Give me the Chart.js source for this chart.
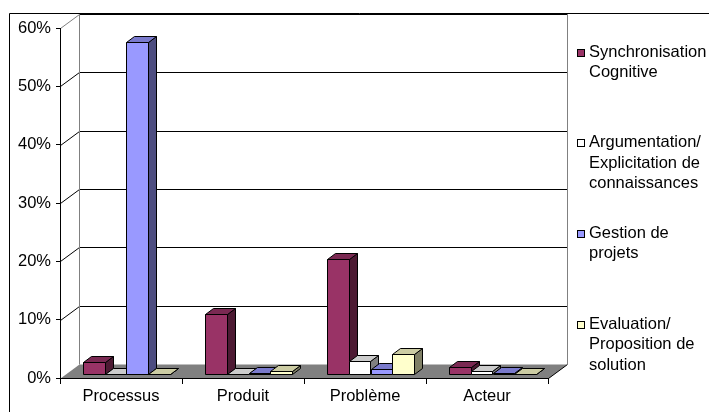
<!DOCTYPE html>
<html>
<head>
<meta charset="utf-8">
<script src="https://cdn.jsdelivr.net/npm/chart.js@4/dist/chart.umd.min.js"></script>
<style>
  html, body { margin: 0; padding: 0; background: #fff; }
  #wrap { width: 709px; height: 412px; }
</style>
</head>
<body>
<div id="wrap"><canvas id="c" width="709" height="412"></canvas></div>
<script>
// ---- data ----
const categories = ['Processus', 'Produit', 'Problème', 'Acteur'];
const seriesNames = [
  ['Synchronisation', 'Cognitive'],
  ['Argumentation/', 'Explicitation de', 'connaissances'],
  ['Gestion de', 'projets'],
  ['Evaluation/', 'Proposition de', 'solution']
];
const synchronisation = [2.0, 10.3, 19.8, 1.2];
const argumentation = [0, 0, 2.2, 0.5];
const gestion = [57.0, 0.2, 0.8, 0.2];
const evaluation = [0, 0.5, 3.5, 0];
const yTickValues = [0, 10, 20, 30, 40, 50, 60];

// ---- style ----
const seriesColors = ['#993366', '#FFFFFF', '#9999FF', '#FFFFCC'];
const FONT = '"Liberation Sans", Arial, sans-serif';
const FSIZE = 16.5;
const WALL_DX = 19, WALL_DY = 14;      // depth of the 3D box
const BAR_OX = 5.5, BAR_OY = 4;        // bar offset into depth
const BAR_DX = 8, BAR_DY = 6;          // bar depth

function shade(hex, f) {
  const n = parseInt(hex.slice(1), 16);
  const r = Math.round(((n >> 16) & 255) * f);
  const g = Math.round(((n >> 8) & 255) * f);
  const b = Math.round((n & 255) * f);
  return `rgb(${r},${g},${b})`;
}

function poly(ctx, pts, fill, stroke) {
  ctx.beginPath();
  ctx.moveTo(pts[0][0], pts[0][1]);
  for (let i = 1; i < pts.length; i++) ctx.lineTo(pts[i][0], pts[i][1]);
  ctx.closePath();
  if (fill) { ctx.fillStyle = fill; ctx.fill(); }
  if (stroke) { ctx.strokeStyle = stroke; ctx.lineWidth = 1; ctx.stroke(); }
}
function line(ctx, x1, y1, x2, y2, color) {
  ctx.beginPath();
  ctx.moveTo(x1, y1); ctx.lineTo(x2, y2);
  ctx.strokeStyle = color; ctx.lineWidth = 1; ctx.stroke();
}

const box3d = {
  id: 'box3d',
  beforeDraw(chart) {
    const ctx = chart.ctx;
    const a = chart.chartArea;
    const ys = chart.scales.y;
    ctx.save();
    ctx.fillStyle = '#fff';
    ctx.fillRect(0, 0, chart.width, chart.height);
    // outer frame
    line(ctx, 9.5, 13.5, chart.width, 13.5, '#000');
    line(ctx, 9.5, 13.5, 9.5, chart.height, '#000');

    const L = Math.round(a.left) + 0.5, R = Math.round(a.right) + 0.5;
    const B = Math.round(a.bottom) + 0.5;
    // floor
    poly(ctx, [[L, B], [R, B], [R + WALL_DX, B - WALL_DY], [L + WALL_DX, B - WALL_DY]], '#808080', null);
    line(ctx, R, B, R + WALL_DX, B - WALL_DY, '#000');
    // back wall grid + side wall grid
    yTickValues.forEach((v, i) => {
      const yf = Math.round(ys.getPixelForValue(v)) + 0.5;
      const yb = yf - WALL_DY;
      if (v !== 0) line(ctx, L + WALL_DX, yb, R + WALL_DX, yb, '#000');
      const top = i === yTickValues.length - 1;
      if (v !== 0) line(ctx, L, yf, L + WALL_DX, yb, top ? '#808080' : '#000');
    });
    // wall edges
    const yTopB = Math.round(ys.getPixelForValue(yTickValues[yTickValues.length - 1])) + 0.5 - WALL_DY;
    line(ctx, L + WALL_DX, yTopB, L + WALL_DX, B - WALL_DY, '#808080');
    line(ctx, R + WALL_DX, yTopB, R + WALL_DX, B - WALL_DY, '#808080');
    ctx.restore();
  },
  afterDatasetsDraw(chart) {
    const ctx = chart.ctx;
    ctx.save();
    const n = chart.data.labels.length;
    for (let j = 0; j < n; j++) {
      chart.data.datasets.forEach((ds, i) => {
        const el = chart.getDatasetMeta(i).data[j];
        const p = el.getProps(['x', 'y', 'base', 'width'], true);
        const l = Math.round(p.x - p.width / 2 + BAR_OX) + 0.5;
        const r = Math.round(p.x + p.width / 2 + BAR_OX) + 0.5;
        const t = Math.round(p.y - BAR_OY) + 0.5;
        const b = Math.round(p.base - BAR_OY) + 0.5;
        const c = seriesColors[i];
        // side
        poly(ctx, [[r, t], [r + BAR_DX, t - BAR_DY], [r + BAR_DX, b - BAR_DY], [r, b]], shade(c, 0.5), '#000');
        // top
        poly(ctx, [[l, t], [r, t], [r + BAR_DX, t - BAR_DY], [l + BAR_DX, t - BAR_DY]], shade(c, 0.8), '#000');
        // front
        poly(ctx, [[l, t], [r, t], [r, b], [l, b]], c, '#000');
      });
    }
    ctx.restore();
  },
  afterDraw(chart) {
    const ctx = chart.ctx;
    ctx.save();
    ctx.font = `${FSIZE}px ${FONT}`;
    ctx.textBaseline = 'alphabetic';
    ctx.textAlign = 'left';
    const x0 = 577.5, tx = 589;
    seriesNames.forEach((lines, i) => {
      const base = 56.5 + i * 90.7;
      const my = Math.round(base - 8) + 0.5;
      ctx.fillStyle = seriesColors[i];
      ctx.fillRect(x0, my, 7, 7);
      ctx.strokeStyle = '#000'; ctx.lineWidth = 1;
      ctx.strokeRect(x0, my, 7, 7);
      ctx.fillStyle = '#000';
      lines.forEach((s, k) => ctx.fillText(s, tx, base + k * 20.5));
    });
    ctx.restore();
  }
};

const allSeries = [synchronisation, argumentation, gestion, evaluation];

new Chart(document.getElementById('c'), {
  type: 'bar',
  data: {
    labels: categories,
    datasets: allSeries.map((vals, i) => ({
      label: seriesNames[i].join(' '),
      data: vals,
      backgroundColor: 'rgba(0,0,0,0)',
      borderWidth: 0,
      categoryPercentage: 0.71,
      barPercentage: 1.0
    }))
  },
  options: {
    responsive: false,
    animation: false,
    devicePixelRatio: 1,
    layout: { padding: { left: 0, right: 161, top: 28, bottom: 0 } },
    plugins: { legend: { display: false }, tooltip: { enabled: false } },
    scales: {
      x: {
        grid: { offset: true, drawOnChartArea: false, drawTicks: true, tickLength: 6, color: '#000' },
        border: { display: true, color: '#000' },
        ticks: { color: '#000', font: { family: FONT, size: FSIZE }, padding: 3, maxRotation: 0 },
        afterFit(s) { s.height = 34; }
      },
      y: {
        min: 0, max: 60,
        afterBuildTicks(s) { s.ticks = yTickValues.map(v => ({ value: v })); },
        grid: { drawOnChartArea: false, drawTicks: true, tickLength: 4, color: '#000' },
        border: { display: true, color: '#000' },
        ticks: { color: '#000', font: { family: FONT, size: FSIZE }, padding: 5, callback: v => v + '%' },
        afterFit(s) { s.width = 60; }
      }
    }
  },
  plugins: [box3d]
});
</script>
</body>
</html>
